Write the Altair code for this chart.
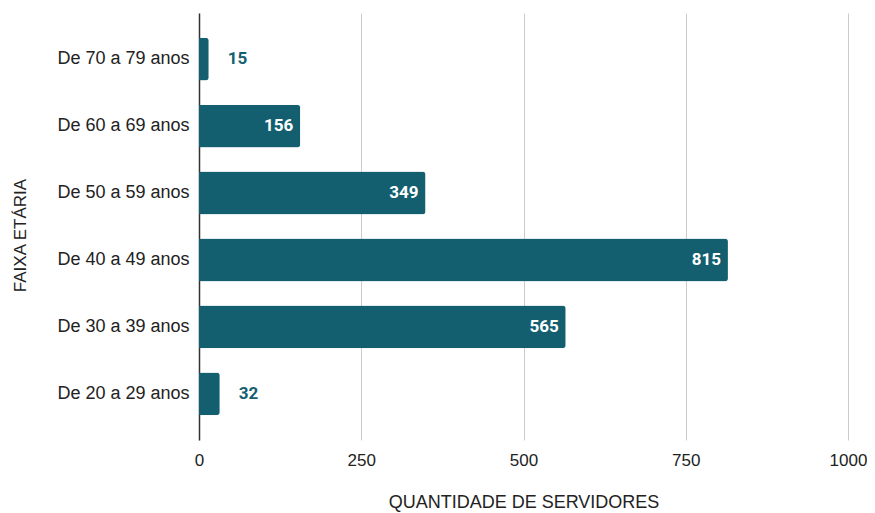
import altair as alt
import pandas as pd

faixas = ["De 70 a 79 anos", "De 60 a 69 anos", "De 50 a 59 anos",
          "De 40 a 49 anos", "De 30 a 39 anos", "De 20 a 29 anos"]
valores = [15, 156, 349, 815, 565, 32]
x_ticks = [0, 250, 500, 750, 1000]

df = pd.DataFrame({"faixa": faixas, "valor": valores})

COLOR = "#135f70"
H = 427
W = 649
FONT = "Liberation Sans"

y_enc = alt.Y("faixa:N", sort=faixas,
              scale=alt.Scale(paddingInner=0.36, paddingOuter=0.37),
              axis=alt.Axis(title="FAIXA ETÁRIA", labelFont=FONT,
                            labelFontSize=18, labelColor="#222222", labelPadding=10,
                            ticks=False, domain=True, domainColor="#333333",
                            domainWidth=1.5, grid=False,
                            titleFont=FONT, titleFontSize=17,
                            titleFontWeight="normal", titleColor="#222222",
                            titleAngle=270, titleX=-179, titleY=222,
                            titleAlign="center", titleBaseline="middle"))

x_enc = alt.X("valor:Q", scale=alt.Scale(domain=[0, 1000], nice=False),
              axis=alt.Axis(values=x_ticks, format="d", title="QUANTIDADE DE SERVIDORES",
                            labelFont=FONT, labelFlush=False,
                            labelFontSize=17, labelColor="#222222", labelPadding=12,
                            ticks=False, domain=False, grid=True,
                            gridColor="#cccccc", gridWidth=1,
                            titleFont=FONT,
                            titleFontSize=18, titleFontWeight="normal",
                            titleColor="#222222", titleY=67,
                            titleBaseline="alphabetic"))

base = alt.Chart(df)

bars = base.mark_bar(color=COLOR, cornerRadiusEnd=3).encode(y=y_enc, x=x_enc)

inside = base.transform_filter("datum.valor >= 100").mark_text(
    align="right", baseline="middle", dx=-7, color="white",
    font="Roboto", fontSize=17, fontWeight="bold"
).encode(y=alt.Y("faixa:N", sort=faixas), x="valor:Q", text="valor:Q")

outside = base.transform_filter("datum.valor < 100").mark_text(
    align="left", baseline="middle", dx=19, color=COLOR,
    font="Roboto", fontSize=17, fontWeight="bold"
).encode(y=alt.Y("faixa:N", sort=faixas), x="valor:Q", text="valor:Q")

chart = alt.layer(bars, inside, outside).properties(
    width=W, height=H,
    autosize=alt.AutoSizeParams(type="none"),
    padding={"left": 191, "top": 5, "right": 19, "bottom": 72},
).configure_view(stroke=None)

chart.save("out.html", embed_options={"renderer": "svg", "actions": False})
